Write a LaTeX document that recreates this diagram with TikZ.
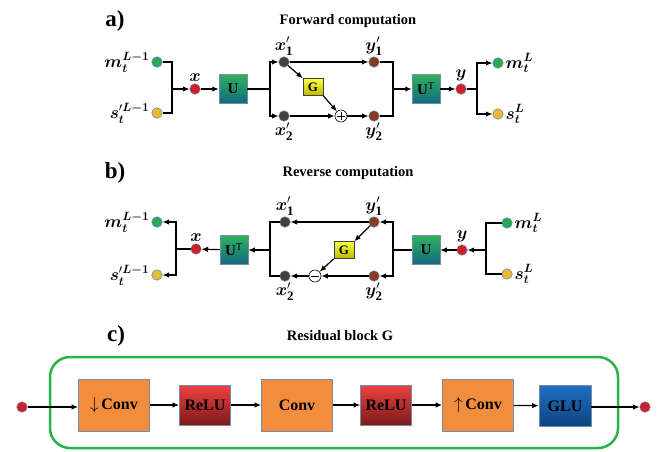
\documentclass[tikz,border=0pt]{standalone}
\usepackage{amsmath,amssymb}
\usepackage{fontspec}
\setmainfont{Liberation Serif}
\usepackage{bm}
\usepackage{tikz}
\usetikzlibrary{calc,arrows.meta,positioning}
\usepackage{xcolor}

\definecolor{dotgreen}{RGB}{40,170,80}
\definecolor{dotyellow}{RGB}{232,185,50}
\definecolor{dotred}{RGB}{210,30,40}
\definecolor{dotgray}{RGB}{64,64,64}
\definecolor{dotbrown}{RGB}{140,60,30}
\definecolor{dotrim}{RGB}{90,130,180}
\definecolor{convorange}{RGB}{242,141,61}
\definecolor{boxrim}{RGB}{120,140,170}
\definecolor{framegreen}{RGB}{40,180,70}

\tikzset{
  dot/.style={circle,draw=dotrim,line width=0.5pt,inner sep=0pt,minimum size=10.5pt,fill=#1},
  arr/.style={line width=1.2pt,-{Latex[length=6.5pt,width=5.5pt]}},
  ln/.style={line width=1.2pt},
  ubox/.style={draw=boxrim,line width=0.5pt,minimum width=28pt,minimum height=29pt,inner sep=0pt,
    top color={rgb,255:red,46;green,178;blue,94},bottom color={rgb,255:red,16;green,105;blue,128},
    font=\fontsize{15}{16}\selectfont\bfseries},
  gbox/.style={draw=dotgray,line width=0.5pt,minimum width=20pt,minimum height=17pt,inner sep=0pt,
    top color={rgb,255:red,255;green,255;blue,70},bottom color={rgb,255:red,185;green,185;blue,0},
    font=\fontsize{13}{14}\selectfont\bfseries},
  opcirc/.style={circle,draw,line width=0.6pt,fill=white,minimum size=12pt,inner sep=0pt},
  convbox/.style={draw=boxrim,line width=0.6pt,fill=convorange,minimum width=71pt,minimum height=52pt,
    font=\fontsize{16}{17}\selectfont\bfseries},
  relubox/.style={draw=boxrim,line width=0.6pt,minimum width=51pt,minimum height=40pt,
    top color={rgb,255:red,236;green,66;blue,66},bottom color={rgb,255:red,125;green,25;blue,25},
    font=\fontsize{16}{17}\selectfont\bfseries},
  glubox/.style={draw=boxrim,line width=0.6pt,minimum width=52pt,minimum height=41pt,
    top color={rgb,255:red,30;green,112;blue,192},bottom color={rgb,255:red,12;green,68;blue,128},
    font=\fontsize{16}{17}\selectfont\bfseries},
  lab/.style={font=\fontsize{18.5}{20}\selectfont,inner sep=1pt},
  title/.style={font=\fontsize{14.5}{16}\selectfont\bfseries},
  panel/.style={font=\fontsize{23}{25}\selectfont\bfseries}
}

\begin{document}
\begin{tikzpicture}[x=1pt,y=-1pt]
  \useasboundingbox (0,0) rectangle (663,451);

  % a) forward
  \node[panel] (pa) at (115,21) {a)};
  \node[title] (ta) at (348,21) {Forward computation};
  \node[dot=dotgreen] (m1a) at (157,62) {};
  \node[dot=dotyellow] (s1a) at (157,113) {};
  \node[lab,left=1pt of m1a] {$\bm{m}_{\bm{t}}^{\bm{L-1}}$};
  \node[lab,left=1pt of s1a] {$\bm{s}_{\bm{t}}^{\prime\bm{L-1}}$};
  \coordinate (ba1) at (172,89);
  \node[dot=dotred] (xa) at (195,89) {};
  \node[lab,above=1pt of xa] {$\bm{x}$};
  \node[ubox] (Ua) at (233,89) {U};
  \coordinate (ba2) at (270,89);
  \node[dot=dotgray] (x1a) at (284,62) {};
  \node[dot=dotgray] (x2a) at (284,116) {};
  \node[lab,above=0pt of x1a] {$\bm{x}'_{\mathbf{1}}$};
  \node[lab,below=0pt of x2a] {$\bm{x}'_{\mathbf{2}}$};
  \node[gbox] (Ga) at (313,87) {G};
  \node[opcirc,path picture={
    \draw ([xshift=2pt]path picture bounding box.west) -- ([xshift=-2pt]path picture bounding box.east);
    \draw ([yshift=-2pt]path picture bounding box.north) -- ([yshift=2pt]path picture bounding box.south);}] (plus) at (341,116) {};
  \node[dot=dotbrown] (y1a) at (374,62) {};
  \node[dot=dotbrown] (y2a) at (374,116) {};
  \node[lab,above=0pt of y1a] {$\bm{y}'_{\mathbf{1}}$};
  \node[lab,below=0pt of y2a] {$\bm{y}'_{\mathbf{2}}$};
  \coordinate (ba3) at (393,89);
  \node[ubox] (UTa) at (426,89) {U\textsuperscript{\mdseries T}};
  \node[dot=dotred] (ya) at (461,89) {};
  \node[lab,above=1pt of ya] {$\bm{y}$};
  \coordinate (ba4) at (477,89);
  \node[dot=dotgreen] (mLa) at (498,63) {};
  \node[dot=dotyellow] (sLa) at (498,114) {};
  \node[lab,right=1pt of mLa] {$\bm{m}_{\bm{t}}^{\bm{L}}$};
  \node[lab,right=1pt of sLa] {$\bm{s}_{\bm{t}}^{\bm{L}}$};

  \draw[ln] (m1a) -| (ba1) |- (s1a);
  \draw[arr] (ba1) -- (xa);
  \draw[arr] (xa) -- (Ua);
  \draw[ln] (Ua) -- (ba2);
  \draw[arr] (ba2) |- (x1a);
  \draw[arr] (ba2) |- (x2a);
  \draw[arr] (x1a) -- (y1a);
  \draw[arr] (x1a) -- (Ga.north west);
  \draw[arr] (Ga.south east) -- (plus);
  \draw[arr] (x2a) -- (plus);
  \draw[arr] (plus) -- (y2a);
  \draw[ln] (y1a) -| (ba3) |- (y2a);
  \draw[arr] (ba3) -- (UTa);
  \draw[arr] (UTa) -- (ya);
  \draw[ln] (ya) -- (ba4);
  \draw[arr] (ba4) |- (mLa);
  \draw[arr] (ba4) |- (sLa);

  % b) reverse
  \node[panel] (pb) at (115,173) {b)};
  \node[title] (tb) at (348,173) {Reverse computation};
  \node[dot=dotgreen] (m1b) at (157,222) {};
  \node[dot=dotyellow] (s1b) at (157,275) {};
  \node[lab,left=1pt of m1b] {$\bm{m}_{\bm{t}}^{\bm{L-1}}$};
  \node[lab,left=1pt of s1b] {$\bm{s}_{\bm{t}}^{\prime\bm{L-1}}$};
  \coordinate (bb1) at (176,249);
  \node[dot=dotred] (xb) at (196,249) {};
  \node[lab,above=1pt of xb] {$\bm{x}$};
  \node[ubox] (UTb) at (234,250) {U\textsuperscript{\mdseries T}};
  \coordinate (bb2) at (270,250);
  \node[dot=dotgray] (x1b) at (285,222) {};
  \node[dot=dotgray] (x2b) at (285,276) {};
  \node[lab,above=0pt of x1b] {$\bm{x}'_{\mathbf{1}}$};
  \node[lab,below=0pt of x2b] {$\bm{x}'_{\mathbf{2}}$};
  \node[gbox] (Gb) at (344,250) {G};
  \node[opcirc,path picture={
    \draw ([xshift=2pt]path picture bounding box.west) -- ([xshift=-2pt]path picture bounding box.east);}] (minus) at (315,276) {};
  \node[dot=dotbrown] (y1b) at (374,222) {};
  \node[dot=dotbrown] (y2b) at (374,276) {};
  \node[lab,above=0pt of y1b] {$\bm{y}'_{\mathbf{1}}$};
  \node[lab,below=0pt of y2b] {$\bm{y}'_{\mathbf{2}}$};
  \coordinate (bb3) at (393,250);
  \node[ubox] (Ub) at (426,250) {U};
  \node[dot=dotred] (yb) at (462,250) {};
  \node[lab,above=1pt of yb] {$\bm{y}$};
  \coordinate (bb4) at (486,250);
  \node[dot=dotgreen] (mLb) at (507,223) {};
  \node[dot=dotyellow] (sLb) at (507,274) {};
  \node[lab,right=1pt of mLb] {$\bm{m}_{\bm{t}}^{\bm{L}}$};
  \node[lab,right=1pt of sLb] {$\bm{s}_{\bm{t}}^{\bm{L}}$};

  \draw[arr] (bb1) |- (m1b);
  \draw[arr] (bb1) |- (s1b);
  \draw[ln] (xb) -- (bb1);
  \draw[arr] (UTb) -- (xb);
  \draw[arr] (bb2) -- (UTb);
  \draw[ln] (x1b) -| (bb2) |- (x2b);
  \draw[arr] (y1b) -- (x1b);
  \draw[arr] (y1b) -- (Gb.north east);
  \draw[arr] (Gb.south west) -- (minus);
  \draw[arr] (y2b) -- (minus);
  \draw[arr] (minus) -- (x2b);
  \draw[arr] (bb3) |- (y1b);
  \draw[arr] (bb3) |- (y2b);
  \draw[ln] (Ub) -- (bb3);
  \draw[arr] (yb) -- (Ub);
  \draw[arr] (bb4) -- (yb);
  \draw[ln] (mLb) -| (bb4) |- (sLb);

  % c) residual block
  \node[panel] (pc) at (116,336) {c)};
  \node[title] (tc) at (340,336) {Residual block G};
  \draw[framegreen,line width=2.5pt,rounded corners=20pt] (50,357) rectangle (618,448);
  \node[dot=dotred] (inc) at (22,407) {};
  \node[convbox] (cv1) at (114,405) {$\downarrow$\,Conv};
  \node[relubox] (re1) at (205,405) {ReLU};
  \node[convbox] (cv2) at (297,405) {Conv};
  \node[relubox] (re2) at (386,405) {ReLU};
  \node[convbox] (cv3) at (478,405) {$\uparrow$\,Conv};
  \node[glubox] (glu) at (565,406) {GLU};
  \node[dot=dotred] (outc) at (645,407) {};
  \draw[arr] (inc) -- (inc -| cv1.west);
  \draw[arr] (cv1) -- (re1);
  \draw[arr] (re1) -- (cv2);
  \draw[arr] (cv2) -- (re2);
  \draw[arr] (re2) -- (cv3);
  \draw[arr] (cv3) -- (glu);
  \draw[arr] (glu.east |- outc) -- (outc);
\end{tikzpicture}
\end{document}
